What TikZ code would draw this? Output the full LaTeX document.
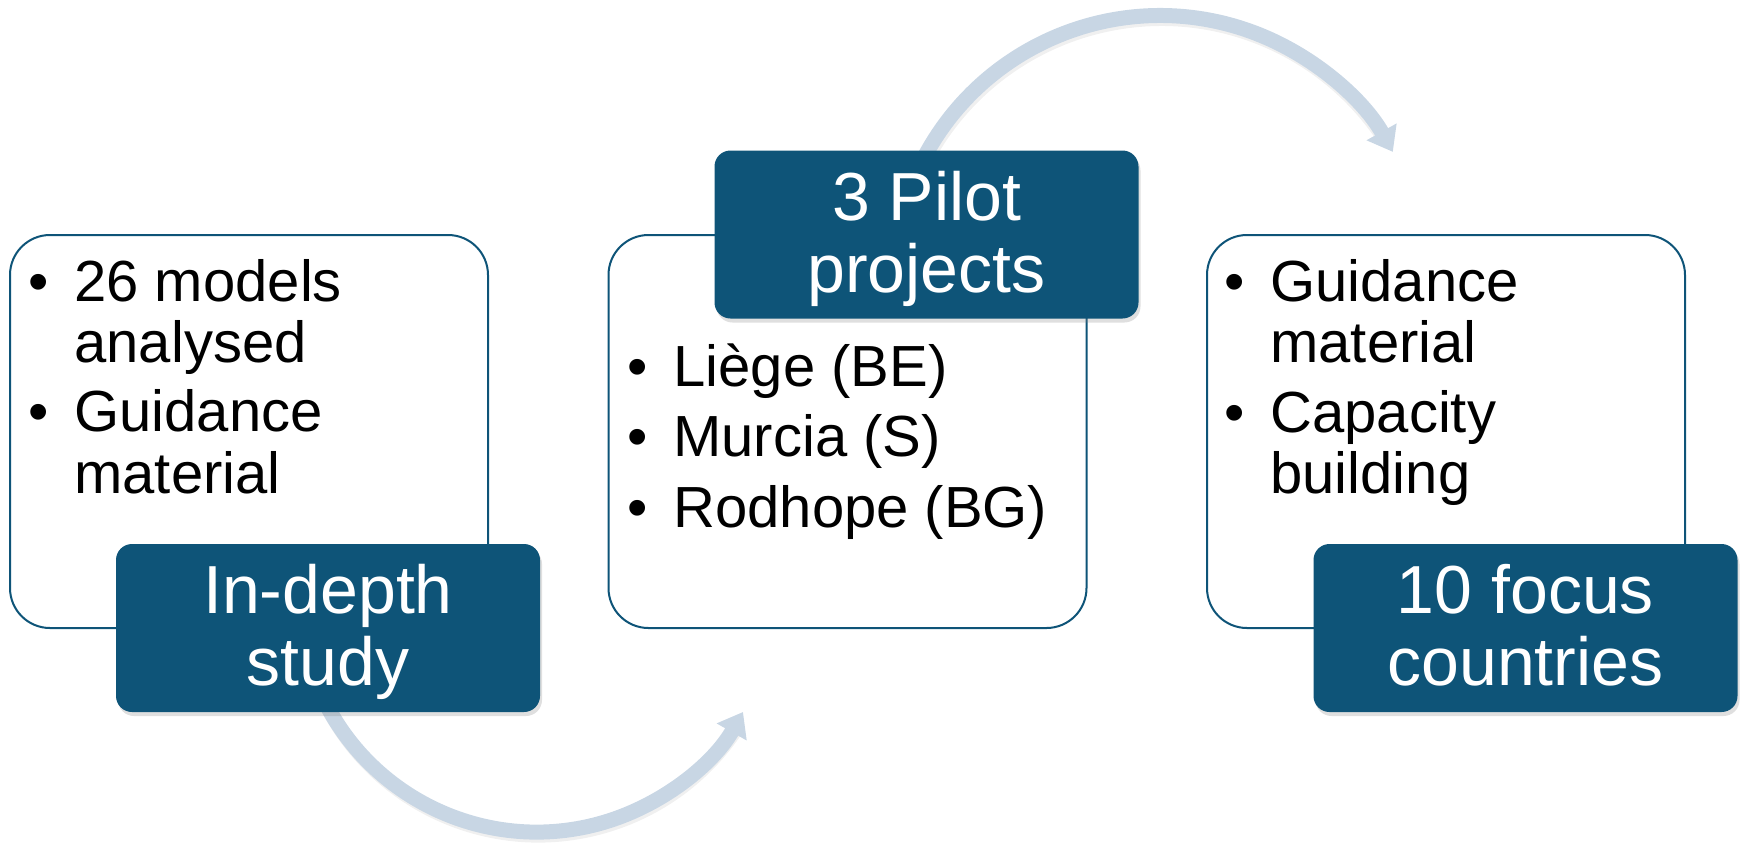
\documentclass[tikz,border=0pt]{standalone}
\usepackage{fontspec}
\setmainfont{Liberation Sans}
\usetikzlibrary{arrows.meta,shadows}
\definecolor{dkblue}{RGB}{14,84,120}
\definecolor{arcblue}{RGB}{200,214,228}
\newcommand{\bul}{\makebox[23pt][l]{\textbullet}}
\newcommand{\ind}{\hspace*{23pt}}
\begin{document}
\begin{tikzpicture}[x=0.5pt,y=-0.5pt,
  wbox/.style={draw=dkblue, line width=1pt, fill=white, rounded corners=20pt, minimum width=239pt, minimum height=196.5pt, inner sep=0pt},
  dbox/.style={fill=dkblue, rounded corners=8pt, minimum width=212pt, minimum height=84pt, inner sep=0pt, drop shadow={shadow xshift=1pt, shadow yshift=-2pt, opacity=0.25}},
  body/.style={anchor=base west, inner sep=0pt, font=\fontsize{29}{30.5}\selectfont},
  ttl/.style={anchor=base, inner sep=0pt, text=white, font=\fontsize{34}{36}\selectfont},
  flow/.style={draw=arcblue, line width=7.5pt, -{Triangle[width=16.5pt,length=11.5pt]}},
  flowshadow/.style={draw=black, draw opacity=0.06, line width=7.5pt}
]
\useasboundingbox (0,0) rectangle (1741,842);

% white content boxes
\node[wbox] (w1) at (249,431.5) {};
\node[wbox] (w2) at (847.5,431.5) {};
\node[wbox] (w3) at (1446,431.5) {};

% curved arrows
\coordinate (a1) at (313.7,675.9);
\coordinate (a2) at (918,169.7);
\draw[flowshadow] ([xshift=0.8pt,yshift=-1.5pt]a1) arc[start angle=200, end angle=326, radius=118.65pt];
\draw[flowshadow] ([xshift=0.8pt,yshift=-1.5pt]a2) arc[start angle=155, end angle=34, radius=133.5pt];
\draw[flow] (a1) arc[start angle=200, end angle=330.4, radius=118.65pt];
\draw[flow] (a2) arc[start angle=155, end angle=29.3, radius=133.5pt];

% dark title boxes
\node[dbox] (d1) at (328,628) {};
\node[dbox] (d2) at (926.5,234.5) {};
\node[dbox] (d3) at (1525.5,628) {};

% titles
\node[ttl] (t1a) at (328,613) {In-depth};
\node[ttl] (t1b) at (328,685) {study};
\node[ttl] (t2a) at (926.5,220) {3 Pilot};
\node[ttl] (t2b) at (926.5,292) {projects};
\node[ttl] (t3a) at (1525.5,613) {10 focus};
\node[ttl] (t3b) at (1525.5,685) {countries};

% left box text
\node[body] (l1) at (28,301) {\bul 26 models};
\node[body] (l2) at (28,362) {\ind analysed};
\node[body] (l3) at (28,431) {\bul Guidance};
\node[body] (l4) at (28,493) {\ind material};

% middle box text
\node[body] (m1) at (627,386) {\bul Liège (BE)};
\node[body] (m2) at (627,456) {\bul Murcia (S)};
\node[body] (m3) at (627,527) {\bul Rodhope (BG)};

% right box text
\node[body] (r1) at (1224,301) {\bul Guidance};
\node[body] (r2) at (1224,362) {\ind material};
\node[body] (r3) at (1224,432) {\bul Capacity};
\node[body] (r4) at (1224,493) {\ind building};
\end{tikzpicture}
\end{document}
